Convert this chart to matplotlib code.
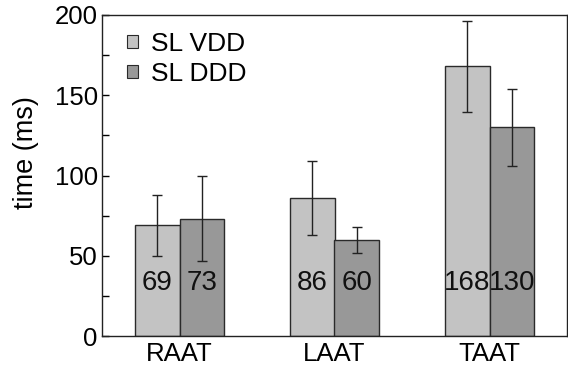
import matplotlib
matplotlib.use("Agg")
import matplotlib.pyplot as plt
import numpy as np
from matplotlib.patches import Patch

categories = ["RAAT", "LAAT", "TAAT"]
series_names = ["SL VDD", "SL DDD"]
vdd = [69, 86, 168]
ddd = [73, 60, 130]
vdd_err = [19, 23, 28.5]
ddd_err = [26.5, 8, 24]
yticks = [0, 50, 100, 150, 200]

plt.rcParams['font.family'] = ['Liberation Sans', 'DejaVu Sans']

fig = plt.figure(figsize=(5.68, 3.69), dpi=100)
ax = fig.add_axes([102/568, 33/369, 465/568, 321/369])

x = np.arange(1, len(categories) + 1)
w = 0.286
c1, c2 = '#c3c3c3', '#989898'
ec = '#2a2a2a'
ax.bar(x - w/2, vdd, w, color=c1, edgecolor=ec, linewidth=1.0, zorder=2)
ax.bar(x + w/2, ddd, w, color=c2, edgecolor=ec, linewidth=1.0, zorder=2)
ax.errorbar(x - w/2, vdd, yerr=vdd_err, fmt='none', ecolor='#222222', elinewidth=1.0, capsize=3.8, capthick=1.0, zorder=3)
ax.errorbar(x + w/2, ddd, yerr=ddd_err, fmt='none', ecolor='#222222', elinewidth=1.0, capsize=3.8, capthick=1.0, zorder=3)

for xi, v in zip(x - w/2, vdd):
    ax.text(xi, 33, str(v), ha='center', va='center', fontsize=20, color='#111111', zorder=4)
for xi, v in zip(x + w/2, ddd):
    ax.text(xi, 33, str(v), ha='center', va='center', fontsize=20, color='#111111', zorder=4)

ax.set_xlim(0.5, 3.5)
ax.set_ylim(0, 200)
ax.set_xticks(x)
ax.set_xticklabels(categories, fontsize=18.5)
ax.set_yticks(yticks)
ax.set_yticklabels([str(t) for t in yticks], fontsize=18.5)
ax.set_yticks([25, 75, 125, 175], minor=True)
ax.tick_params(axis='y', which='both', direction='in', length=5, width=1, pad=3)
ax.tick_params(axis='x', length=0, pad=4)
ax.set_ylabel('time (ms)', fontsize=19.5)
ax.yaxis.set_label_coords(-0.136, 0.57)
for s in ax.spines.values():
    s.set_linewidth(1.0)
    s.set_color('#222222')

handles = [Patch(facecolor=c1, edgecolor=ec, linewidth=0.8),
           Patch(facecolor=c2, edgecolor=ec, linewidth=0.8)]
ax.legend(handles, series_names, loc='upper left', bbox_to_anchor=(0.02, 0.997),
          frameon=False, fontsize=19, handlelength=0.4, handleheight=0.4,
          handletextpad=0.5, labelspacing=0.24, borderaxespad=0.2)

fig.savefig('out.png', dpi=100)
